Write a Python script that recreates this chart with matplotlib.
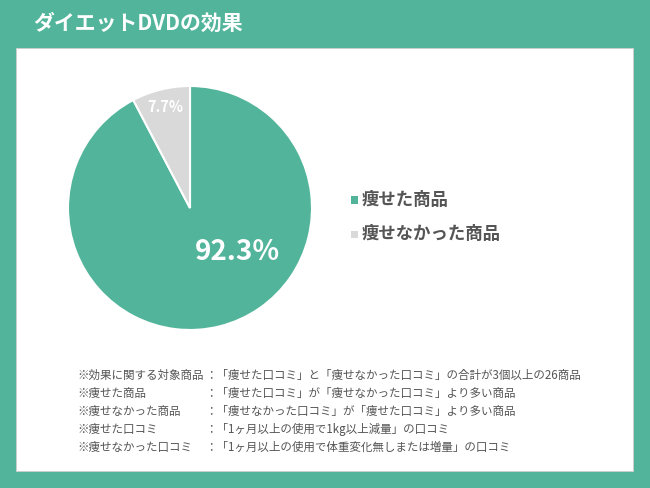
import matplotlib
matplotlib.use("Agg")
import matplotlib.pyplot as plt
from matplotlib.patches import Rectangle

plt.rcParams['font.family'] = ['Noto Sans CJK JP', 'DejaVu Sans']

title = "ダイエットDVDの効果"
categories = ["痩せた商品", "痩せなかった商品"]
values = [92.3, 7.7]
colors = ["#52b59b", "#d9d9d9"]
note_labels = ["※効果に関する対象商品", "※痩せた商品", "※痩せなかった商品", "※痩せた口コミ", "※痩せなかった口コミ"]
note_texts = [
    "：「痩せた口コミ」と「痩せなかった口コミ」の合計が3個以上の26商品",
    "：「痩せた口コミ」が「痩せなかった口コミ」より多い商品",
    "：「痩せなかった口コミ」が「痩せた口コミ」より多い商品",
    "：「1ヶ月以上の使用で1kg以上減量」の口コミ",
    "：「1ヶ月以上の使用で体重変化無しまたは増量」の口コミ",
]

W, H = 650, 488
fig = plt.figure(figsize=(W/100, H/100), dpi=100)
fig.patch.set_facecolor("#52b59b")

def fx(x): return x / W
def fy(y): return 1 - y / H

# white panel
fig.patches.append(Rectangle((fx(16), fy(471)), fx(633) - fx(16), fy(48) - fy(471),
                             transform=fig.transFigure, facecolor="white", edgecolor="#cfcfcf",
                             linewidth=0.6, zorder=-5))

fig.text(fx(33), fy(23), title, color="white", fontsize=15, fontweight="bold",
         ha="left", va="center")

cx, cy, r = 190, 208, 122
ax = fig.add_axes([fx(cx - r), fy(cy + r), 2 * r / W, 2 * r / H], zorder=2)
ax.patch.set_visible(False)
wedges, _ = ax.pie(values, colors=colors, startangle=90, counterclock=False,
                   wedgeprops=dict(edgecolor="white", linewidth=1.5))
ax.set_xlim(-1, 1); ax.set_ylim(-1, 1)
ax.set_aspect("equal")
ax.axis("off")
ax.text(0.39, -0.36, f"{values[0]}%", color="white", fontsize=20, fontweight="bold",
        ha="center", va="center")
ax.text(-0.2, 0.83, f"{values[1]}%", color="white", fontsize=10.5, fontweight="bold",
        ha="center", va="center")

# legend
for i, (cat, col) in enumerate(zip(categories, colors)):
    y = 200 + 34 * i
    fig.patches.append(Rectangle((fx(351), fy(y + 3.5)), 7 / W, 7 / H, transform=fig.transFigure,
                                 facecolor=col, edgecolor="none", zorder=3))
    fig.text(fx(362), fy(y), cat, color="#555555", fontsize=12.5, fontweight="bold",
             ha="left", va="center")

# notes
for i, (lab, txt) in enumerate(zip(note_labels, note_texts)):
    y = 375 + 18 * i
    fig.text(fx(77), fy(y), lab, color="#555555", fontsize=8.3, ha="left", va="center")
    fig.text(fx(205), fy(y), txt, color="#555555", fontsize=8.3, ha="left", va="center")

fig.savefig("out.png", dpi=100, facecolor=fig.get_facecolor())
